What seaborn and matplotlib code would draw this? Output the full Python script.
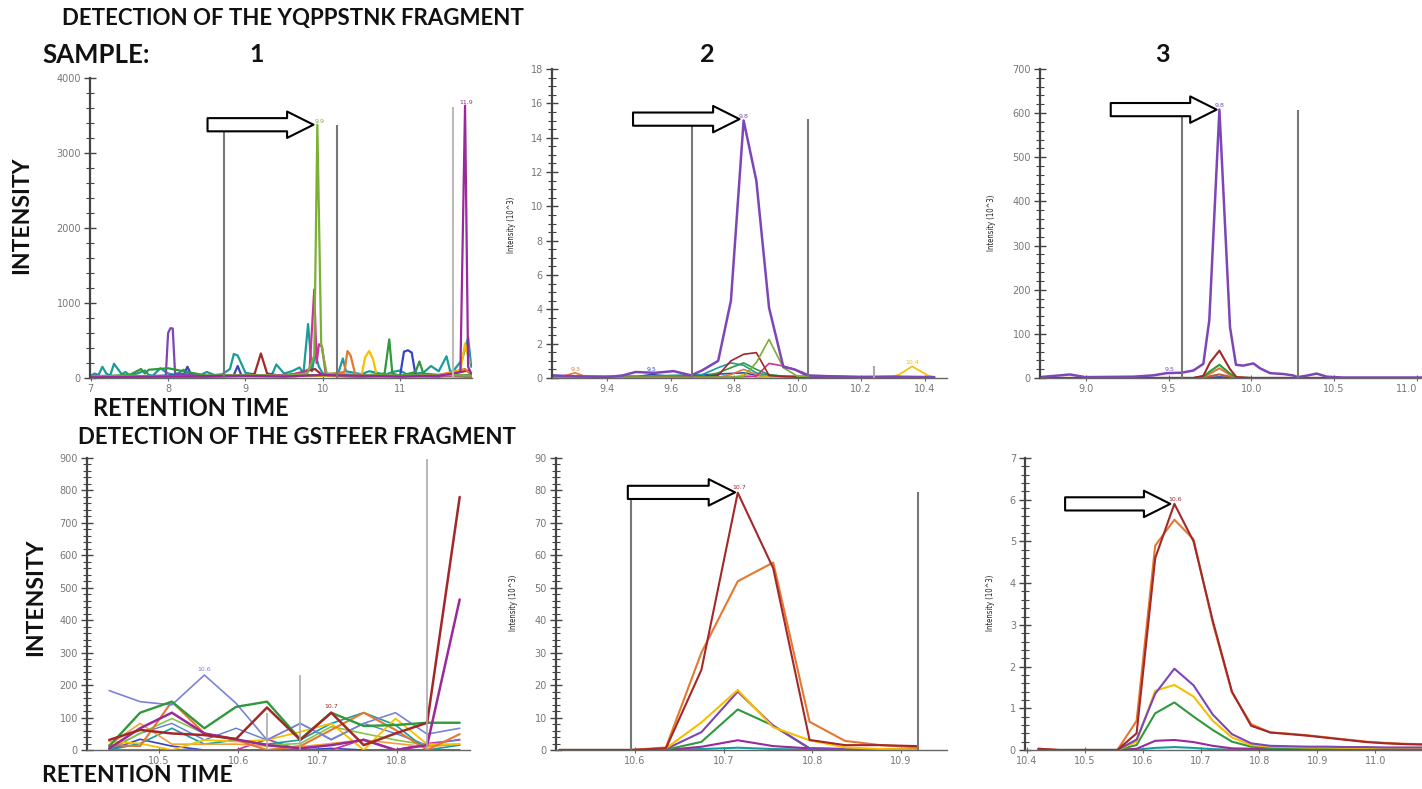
import numpy as np
import pandas as pd
import seaborn as sns
import matplotlib.pyplot as plt
from matplotlib.ticker import MultipleLocator

sns.set_style('ticks')
plt.rcParams['font.family'] = ['DejaVu Sans']

# ---------------- data ----------------
# Sample 1, YQPPSTNK (raw intensity)
tl_teal_t = [7.0, 7.05, 7.1, 7.15, 7.2, 7.25, 7.3, 7.4, 7.45, 7.5, 7.6, 7.7, 7.75, 7.8, 7.9, 8.0, 8.1, 8.2, 8.3,
             8.4, 8.5, 8.6, 8.7, 8.8, 8.85, 8.9, 9.0, 9.1, 9.2, 9.3, 9.35, 9.4, 9.5, 9.6, 9.7, 9.75, 9.81, 9.86,
             9.9, 9.95, 10.0, 10.1, 10.2, 10.26, 10.3, 10.4, 10.5, 10.6, 10.7, 10.8, 10.9, 11.0, 11.1, 11.2,
             11.3, 11.4, 11.5, 11.6, 11.65, 11.7, 11.8, 11.88, 11.92]
tl_teal_v = [30, 60, 40, 150, 60, 30, 190, 50, 80, 40, 60, 100, 40, 30, 130, 60, 40, 110, 50, 30, 80, 40,
             50, 120, 320, 300, 70, 50, 30, 40, 60, 180, 60, 90, 140, 60, 720, 90, 330, 150, 60, 50, 60, 260,
             90, 70, 50, 90, 70, 40, 80, 100, 40, 60, 70, 160, 90, 290, 80, 110, 240, 540, 150]
tl_olive_t = [7.0, 7.5, 8.0, 8.5, 9.0, 9.5, 9.8, 9.89, 9.93, 9.98, 10.05, 10.5, 11.0, 11.5, 11.92]
tl_olive_v = [20, 30, 20, 30, 40, 30, 60, 300, 3377, 450, 60, 40, 30, 40, 30]
tl_magenta_t = [7.0, 7.5, 8.0, 8.5, 9.0, 9.5, 9.7, 9.83, 9.89, 9.92, 9.95, 9.99, 10.04, 10.5, 11.0, 11.5, 11.92]
tl_magenta_v = [20, 15, 20, 15, 30, 40, 60, 120, 1180, 200, 450, 420, 40, 30, 20, 30, 20]
tl_violet_t = [7.0, 8.0, 9.0, 9.5, 10.0, 10.5, 11.0, 11.5, 11.78, 11.84, 11.88, 11.92]
tl_violet_v = [10, 20, 30, 20, 40, 30, 20, 30, 80, 3632, 150, 60]
tl_purple_t = [7.0, 7.5, 7.97, 8.0, 8.03, 8.06, 8.09, 8.5, 9.0, 9.5, 10.0, 10.5, 11.0, 11.5, 11.92]
tl_purple_v = [30, 20, 30, 600, 664, 660, 60, 30, 20, 40, 30, 20, 30, 20, 40]
tl_red_t = [7.0, 7.5, 8.0, 8.5, 9.0, 9.12, 9.2, 9.28, 9.5, 9.9, 10.0, 10.5, 11.0, 11.5, 11.88, 11.92]
tl_red_v = [10, 20, 15, 10, 20, 60, 327, 60, 20, 120, 30, 20, 30, 20, 100, 40]
tl_orange_t = [7.0, 8.0, 9.0, 9.5, 10.0, 10.28, 10.32, 10.36, 10.42, 10.6, 11.0, 11.5, 11.84, 11.92]
tl_orange_v = [20, 15, 30, 20, 40, 80, 360, 300, 50, 30, 20, 40, 120, 40]
tl_yellow_t = [7.0, 8.0, 9.0, 10.0, 10.5, 10.55, 10.6, 10.65, 10.7, 11.0, 11.5, 11.78, 11.84, 11.9]
tl_yellow_v = [10, 20, 10, 30, 30, 280, 360, 250, 30, 20, 30, 100, 460, 200]
tl_green_t = [7.0, 7.5, 7.65, 7.7, 7.75, 8.0, 8.5, 9.0, 9.5, 10.0, 10.5, 10.8, 10.86, 10.9, 11.0, 11.2,
              11.25, 11.3, 11.5, 11.92]
tl_green_v = [20, 40, 120, 60, 110, 130, 30, 40, 30, 40, 30, 60, 515, 60, 30, 80, 220, 60, 40, 30]
tl_blue_t = [7.0, 7.5, 8.0, 8.2, 8.25, 8.3, 8.5, 8.85, 8.9, 8.95, 9.5, 10.0, 10.5, 11.0, 11.05, 11.1, 11.15,
             11.2, 11.5, 11.92]
tl_blue_v = [10, 20, 30, 40, 150, 40, 20, 40, 160, 30, 20, 40, 30, 30, 350, 370, 340, 40, 30, 20]
tl_bounds = [8.72, 10.18, 11.69]
tl_bound_tops = [3310, 3377, 3620]

# Sample 2, YQPPSTNK (x10^3)
tm_purple_t = [9.23, 9.3, 9.4, 9.45, 9.49, 9.55, 9.61, 9.665, 9.70, 9.75, 9.79, 9.83, 9.87, 9.91, 9.955,
               9.99, 10.035, 10.1, 10.2, 10.3, 10.43]
tm_purple_v = [0.15, 0.1, 0.05, 0.15, 0.35, 0.3, 0.4, 0.15, 0.45, 1.0, 4.5, 15.0, 11.5, 4.1, 0.65, 0.5,
               0.15, 0.1, 0.05, 0.08, 0.05]
tm_olive_t = [9.23, 9.5, 9.79, 9.83, 9.87, 9.91, 9.955, 10.0, 10.43]
tm_olive_v = [0.05, 0.05, 0.05, 0.1, 0.9, 2.25, 0.6, 0.1, 0.05]
tm_red_t = [9.23, 9.6, 9.7, 9.75, 9.79, 9.83, 9.87, 9.91, 9.955, 10.0, 10.43]
tm_red_v = [0.02, 0.05, 0.1, 0.15, 1.0, 1.38, 1.48, 0.15, 0.08, 0.05, 0.05]
tm_green_t = [9.23, 9.7, 9.75, 9.79, 9.83, 9.87, 9.91, 9.955, 10.1, 10.43]
tm_green_v = [0.05, 0.05, 0.3, 0.6, 0.88, 0.5, 0.2, 0.1, 0.05, 0.05]
tm_teal_t = [9.23, 9.26, 9.3, 9.5, 9.7, 9.75, 9.79, 9.83, 9.87, 9.91, 10.0, 10.1, 10.2, 10.43]
tm_teal_v = [0.15, 0.12, 0.1, 0.1, 0.2, 0.6, 0.88, 0.74, 0.3, 0.15, 0.1, 0.12, 0.05, 0.05]
tm_magenta_t = [9.23, 9.8, 9.87, 9.91, 9.955, 9.99, 10.03, 10.43]
tm_magenta_v = [0.02, 0.05, 0.1, 0.85, 0.7, 0.5, 0.1, 0.05]
tm_orange_t = [9.23, 9.27, 9.3, 9.33, 9.5, 9.75, 9.79, 9.83, 9.87, 9.91, 10.0, 10.43]
tm_orange_v = [0.05, 0.15, 0.3, 0.1, 0.05, 0.05, 0.2, 0.5, 0.2, 0.05, 0.05, 0.05]
tm_yellow_t = [9.23, 9.8, 9.83, 9.87, 10.0, 10.3, 10.32, 10.36, 10.41, 10.43]
tm_yellow_v = [0.02, 0.05, 0.2, 0.05, 0.03, 0.1, 0.2, 0.68, 0.15, 0.05]
tm_blue_t = [9.23, 9.5, 9.54, 9.6, 9.83, 9.9, 10.43]
tm_blue_v = [0.05, 0.1, 0.2, 0.1, 0.3, 0.05, 0.05]
tm_bounds = [9.667, 10.033, 10.24]
tm_bound_tops = [14.75, 15.1, 0.7]

# Sample 3, YQPPSTNK (x10^3)
tr_purple_t = [8.724, 8.905, 8.996, 9.288, 9.408, 9.489, 9.579, 9.65, 9.71, 9.746, 9.807, 9.871, 9.907,
               9.95, 10.012, 10.052, 10.113, 10.193, 10.25, 10.28, 10.33, 10.394, 10.455, 10.555, 11.03]
tr_purple_v = [2, 8, 2, 3, 6, 11, 12, 17, 32, 131, 608, 115, 30, 28, 33, 22, 11, 9, 6, 2, 5, 10, 3, 1, 1]
tr_small_t = [8.724, 9.65, 9.71, 9.75, 9.807, 9.871, 9.91, 10.0, 11.03]
tr_red_v = [0, 0, 5, 35, 62, 20, 2, 0, 0]
tr_green_v = [0, 0, 3, 15, 30, 10, 1, 0, 0]
tr_orange_v = [0, 0, 2, 10, 22, 7, 1, 0, 0]
tr_brown_v = [0, 0, 1, 4, 8, 3, 0, 0, 0]
tr_blue_v = [0, 0, 0, 1, 2, 1, 0, 0, 0]
tr_bounds = [9.579, 10.28]
tr_bound_tops = [596, 608]

# Sample 1, GSTFEER (raw intensity)
bl_t = [10.437, 10.476, 10.516, 10.557, 10.597, 10.636, 10.678, 10.717, 10.758, 10.798, 10.838, 10.879]
bl_lavender = [183, 149, 139, 231, 144, 31, 82, 33, 82, 115, 49, 67]
bl_darkred = [31, 62, 51, 46, 34, 131, 31, 115, 15, 51, 84, 780]
bl_purple = [5, 67, 115, 51, 33, 15, 5, 15, 31, 0, 15, 464]
bl_green = [12, 115, 149, 67, 133, 149, 33, 115, 74, 77, 84, 84]
bl_orange = [15, 12, 149, 51, 31, 0, 12, 62, 115, 62, 0, 49]
bl_yellow = [26, 20, 0, 31, 26, 31, 56, 82, 0, 97, 18, 18]
bl_ltorange = [15, 82, 18, 18, 18, 12, 10, 20, 31, 20, 10, 18]
bl_teal = [0, 20, 67, 18, 31, 18, 31, 82, 115, 77, 0, 15]
bl_ltgreen = [5, 51, 97, 51, 31, 15, 20, 72, 51, 31, 15, 15]
bl_blue = [0, 33, 12, 0, 0, 0, 0, 5, 0, 0, 0, 0]
bl_magenta = [0, 0, 0, 0, 0, 33, 0, 0, 33, 0, 20, 31]
bl_medblue = [0, 51, 82, 31, 67, 31, 82, 31, 82, 51, 15, 33]
bl_bounds = [10.636, 10.678, 10.838]
bl_bound_tops = [115, 231, 898]

# Sample 2, GSTFEER (x10^3)
bm_t = [10.515, 10.555, 10.596, 10.635, 10.675, 10.716, 10.756, 10.797, 10.837, 10.877, 10.918]
bm_darkred = [0, 0, 0, 0.5, 24.7, 79.3, 56, 3.1, 1.5, 1.5, 1.2]
bm_orange = [0, 0, 0, 0.8, 30, 52, 57.8, 8.7, 2.8, 1.5, 0.8]
bm_yellow = [0, 0, 0, 0.5, 8.5, 18.5, 7, 3, 0.8, 0.3, 0.2]
bm_purple = [0, 0, 0, 0.3, 5.5, 18, 7.5, 0.5, 0.3, 0.2, 0.2]
bm_green = [0, 0, 0, 0.1, 2.5, 12.5, 7.5, 0.5, 0.2, 0.1, 0.1]
bm_magenta = [0, 0, 0, 0, 1, 3, 1.2, 0.5, 0.3, 0.2, 0.2]
bm_teal = [0, 0, 0, 0, 0.3, 0.7, 0.3, 0.1, 0, 0, 0]
bm_bounds = [10.596, 10.919]
bm_bound_tops = [77.7, 79.4]

# Sample 3, GSTFEER (x10^3)
br_t = [10.42, 10.455, 10.49, 10.523, 10.556, 10.589, 10.621, 10.654, 10.687, 10.72, 10.753, 10.786,
        10.819, 10.852, 10.885, 10.918, 10.951, 10.984, 11.017, 11.05, 11.08]
br_darkred = [0.03, 0, 0, 0, 0, 0.4, 4.6, 5.9, 5.0, 3.1, 1.4, 0.58, 0.42, 0.38, 0.34, 0.29, 0.24, 0.19,
              0.16, 0.14, 0.13]
br_orange = [0.03, 0, 0, 0, 0, 0.7, 4.9, 5.52, 5.05, 3.05, 1.38, 0.62, 0.42, 0.39, 0.35, 0.3, 0.25, 0.2,
             0.17, 0.15, 0.14]
br_purple = [0, 0, 0, 0, 0, 0.25, 1.35, 1.95, 1.55, 0.85, 0.38, 0.16, 0.1, 0.09, 0.08, 0.08, 0.07, 0.07,
             0.06, 0.06, 0.06]
br_yellow = [0, 0, 0, 0, 0, 0.2, 1.42, 1.56, 1.28, 0.7, 0.3, 0.12, 0.08, 0.07, 0.06, 0.06, 0.05, 0.05,
             0.05, 0.05, 0.05]
br_green = [0, 0, 0, 0, 0, 0.12, 0.88, 1.14, 0.8, 0.48, 0.2, 0.08, 0.05, 0.05, 0.04, 0.04, 0.04, 0.04,
            0.04, 0.04, 0.04]
br_magenta = [0, 0, 0, 0, 0, 0.03, 0.22, 0.24, 0.19, 0.1, 0.04, 0.03, 0.02, 0.02, 0.02, 0.02, 0.02, 0.02,
              0.02, 0.02, 0.02]
br_teal = [0, 0, 0, 0, 0, 0.01, 0.05, 0.07, 0.05, 0.02, 0.01, 0.01, 0, 0, 0, 0, 0, 0, 0, 0, 0]

# ---------------- colours ----------------
PURPLE = '#7d45b8'
VIOLET = '#9a2a9a'
MAGENTA = '#cc3399'
OLIVE = '#7ab034'
GREEN = '#2e9a3c'
LTGREEN = '#86c44a'
TEAL = '#1a9c9c'
DARKRED = '#a3282a'
ORANGE = '#e6772e'
LTORANGE = '#f2a03c'
YELLOW = '#f5c000'
BLUE = '#3545c0'
LAVENDER = '#7b83d6'
BROWN = '#b0603a'

W, H = 1422, 789
fig = plt.figure(figsize=(W / 100, H / 100), dpi=100)


def box(x0, x1, ytop, ybot):
    return [x0 / W, 1 - ybot / H, (x1 - x0) / W, (ybot - ytop) / H]


def line(ax, t, v, color, lw=1.3):
    sns.lineplot(x=t, y=v, ax=ax, color=color, linewidth=lw, estimator=None, sort=False, legend=False)


def style(ax, xlim, ylim, xticks, xlabels, ymajor, yminor):
    ax.set_xlim(xlim)
    ax.set_ylim(ylim)
    ax.set_xticks(xticks, xlabels)
    ax.yaxis.set_major_locator(MultipleLocator(ymajor))
    ax.yaxis.set_minor_locator(MultipleLocator(yminor))
    ax.set_xlabel('')
    ax.set_ylabel('')
    sns.despine(ax=ax)
    ax.spines['left'].set_linewidth(1.6)
    ax.spines['left'].set_color('#444444')
    ax.spines['bottom'].set_linewidth(1.0)
    ax.spines['bottom'].set_color('#666666')
    ax.tick_params(axis='y', which='major', direction='inout', length=9, width=1.0, color='#444444',
                   labelsize=7, labelcolor='#777777', pad=2)
    ax.tick_params(axis='y', which='minor', direction='inout', length=6, width=0.8, color='#444444')
    ax.tick_params(axis='x', which='major', direction='inout', length=4, width=0.8, color='#666666',
                   labelsize=7, labelcolor='#777777', pad=2)
    ax.patch.set_alpha(0)


def arrow(ax, x0, x1, y):
    ax.annotate('', xy=(x1, y), xytext=(x0, y),
                arrowprops=dict(arrowstyle='simple,head_length=1.9,head_width=1.9,tail_width=0.95',
                                fc='white', ec='black', lw=1.5, shrinkA=0, shrinkB=0, mutation_scale=10))


def peak(ax, x, y, s, color):
    ax.text(x, y, s, color=color, fontsize=4.5, ha='center', va='bottom')


# ---- top left ----
ax = fig.add_axes(box(90, 472, 78, 378))
for t, v, c in [(tl_teal_t, tl_teal_v, TEAL), (tl_blue_t, tl_blue_v, BLUE), (tl_red_t, tl_red_v, DARKRED),
                (tl_purple_t, tl_purple_v, PURPLE), (tl_orange_t, tl_orange_v, ORANGE),
                (tl_yellow_t, tl_yellow_v, YELLOW), (tl_green_t, tl_green_v, GREEN),
                (tl_magenta_t, tl_magenta_v, MAGENTA), (tl_olive_t, tl_olive_v, OLIVE),
                (tl_violet_t, tl_violet_v, VIOLET)]:
    line(ax, t, v, c, 1.6)
ax.vlines(tl_bounds, 0, tl_bound_tops, colors=['#777777', '#777777', '#bbbbbb'], lw=1.5)
style(ax, (6.99, 11.93), (0, 4000), [7, 8, 9, 10, 11], ['7', '8', '9', '10', '11'], 1000, 200)
arrow(ax, 8.51, 9.88, 3377)
peak(ax, 9.96, 3390, '9.9', OLIVE)
peak(ax, 11.86, 3640, '11.9', VIOLET)

# ---- top middle ----
ax = fig.add_axes(box(552, 947, 69, 378))
for t, v, c in [(tm_blue_t, tm_blue_v, BLUE), (tm_orange_t, tm_orange_v, ORANGE),
                (tm_yellow_t, tm_yellow_v, YELLOW), (tm_teal_t, tm_teal_v, TEAL),
                (tm_green_t, tm_green_v, GREEN), (tm_magenta_t, tm_magenta_v, MAGENTA),
                (tm_red_t, tm_red_v, DARKRED), (tm_olive_t, tm_olive_v, OLIVE)]:
    line(ax, t, v, c, 1.2)
line(ax, tm_purple_t, tm_purple_v, PURPLE, 1.8)
ax.vlines(tm_bounds, 0, tm_bound_tops, colors=['#777777', '#777777', '#aaaaaa'], lw=1.5)
style(ax, (9.227, 10.47), (0, 18), [9.4, 9.6, 9.8, 10.0, 10.2, 10.4],
      ['9.4', '9.6', '9.8', '10.0', '10.2', '10.4'], 2, 0.5)
arrow(ax, 9.482, 9.817, 15.08)
peak(ax, 9.83, 15.1, '9.8', PURPLE)
peak(ax, 9.30, 0.35, '9.3', ORANGE)
peak(ax, 9.54, 0.35, '9.5', BLUE)
peak(ax, 10.36, 0.75, '10.4', YELLOW)

# ---- top right ----
ax = fig.add_axes(box(1040, 1422, 69, 378))
for v, c in [(tr_blue_v, BLUE), (tr_brown_v, BROWN), (tr_orange_v, ORANGE), (tr_green_v, GREEN),
             (tr_red_v, DARKRED)]:
    line(ax, tr_small_t, v, c, 1.5)
line(ax, tr_purple_t, tr_purple_v, PURPLE, 1.8)
ax.vlines(tr_bounds, 0, tr_bound_tops, colors='#777777', lw=1.5)
style(ax, (8.724, 11.03), (0, 700), [9.0, 9.5, 10.0, 10.5, 11.0],
      ['9.0', '9.5', '10.0', '10.5', '11.0'], 100, 20)
ax.get_xticklabels()[-1].set_horizontalalignment('right')
arrow(ax, 9.151, 9.79, 608)
peak(ax, 9.81, 612, '9.8', PURPLE)
peak(ax, 9.505, 14, '9.5', PURPLE)

# ---- bottom left ----
ax = fig.add_axes(box(87, 470, 458, 750))
for v, c, lw in [(bl_blue, BLUE, 1.2), (bl_magenta, MAGENTA, 1.2), (bl_medblue, '#5a7fd0', 1.0),
                 (bl_ltgreen, LTGREEN, 1.2), (bl_teal, TEAL, 1.2), (bl_ltorange, LTORANGE, 1.2),
                 (bl_yellow, YELLOW, 1.3), (bl_orange, ORANGE, 1.5), (bl_lavender, LAVENDER, 1.2),
                 (bl_green, GREEN, 1.7), (bl_purple, VIOLET, 1.8), (bl_darkred, DARKRED, 1.8)]:
    line(ax, bl_t, v, c, lw)
ax.vlines(bl_bounds, 0, bl_bound_tops, colors='#aaaaaa', lw=1.2)
style(ax, (10.409, 10.892), (0, 900), [10.5, 10.6, 10.7, 10.8],
      ['10.5', '10.6', '10.7', '10.8'], 100, 20)
peak(ax, 10.557, 240, '10.6', LAVENDER)
peak(ax, 10.717, 125, '10.7', DARKRED)

# ---- bottom middle ----
ax = fig.add_axes(box(556, 947, 458, 750))
for v, c in [(bm_teal, TEAL), (bm_magenta, VIOLET), (bm_green, GREEN), (bm_purple, PURPLE),
             (bm_yellow, YELLOW), (bm_orange, ORANGE), (bm_darkred, DARKRED)]:
    line(ax, bm_t, v, c, 1.5)
ax.vlines(bm_bounds, 0, bm_bound_tops, colors='#777777', lw=1.5)
style(ax, (10.511, 10.952), (0, 90), [10.6, 10.7, 10.8, 10.9],
      ['10.6', '10.7', '10.8', '10.9'], 10, 2)
arrow(ax, 10.592, 10.713, 79.4)
peak(ax, 10.718, 80.2, '10.7', DARKRED)

# ---- bottom right ----
ax = fig.add_axes(box(1025, 1422, 458, 750))
for v, c in [(br_teal, TEAL), (br_magenta, VIOLET), (br_green, GREEN), (br_yellow, YELLOW),
             (br_purple, PURPLE), (br_orange, ORANGE), (br_darkred, DARKRED)]:
    line(ax, br_t, v, c, 1.5)
style(ax, (10.397, 11.08), (0, 7), [10.4, 10.5, 10.6, 10.7, 10.8, 10.9, 11.0],
      ['10.4', '10.5', '10.6', '10.7', '10.8', '10.9', '11.0'], 1, 0.2)
arrow(ax, 10.466, 10.647, 5.9)
peak(ax, 10.655, 5.95, '10.6', DARKRED)

# ---- small axis titles of the instrument plots ----
for x, y in [(512, 225), (992, 223), (513, 603), (990, 603)]:
    fig.text(x / W, 1 - y / H, 'Intensity (10^3)', rotation=90, fontsize=5.5, ha='center', va='center',
             color='#222222', fontstretch='condensed')

# ---- slide text ----
big = dict(family=['Lato', 'DejaVu Sans'], fontweight='bold', color='#111111', va='center')
fig.text(62 / W, 1 - 18 / H, 'DETECTION OF THE YQPPSTNK FRAGMENT', fontsize=16, ha='left', **big)
fig.text(42 / W, 1 - 55 / H, 'SAMPLE:', fontsize=18.5, ha='left', **big)
for x, s in [(257, '1'), (707, '2'), (1162, '3')]:
    fig.text(x / W, 1 - 55 / H, s, fontsize=18, ha='center', **big)
fig.text(22 / W, 1 - 215 / H, 'INTENSITY', fontsize=16.5, ha='center', rotation=90, **big)
fig.text(93 / W, 1 - 408 / H, 'RETENTION TIME', fontsize=17, ha='left', **big)
fig.text(78 / W, 1 - 438 / H, 'DETECTION OF THE GSTFEER FRAGMENT', fontsize=16, ha='left', **big)
fig.text(36 / W, 1 - 597 / H, 'INTENSITY', fontsize=16.5, ha='center', rotation=90, **big)
fig.text(42 / W, 1 - 776 / H, 'RETENTION TIME', fontsize=16.5, ha='left', **big)

fig.savefig('out.png', dpi=100, facecolor='white')
